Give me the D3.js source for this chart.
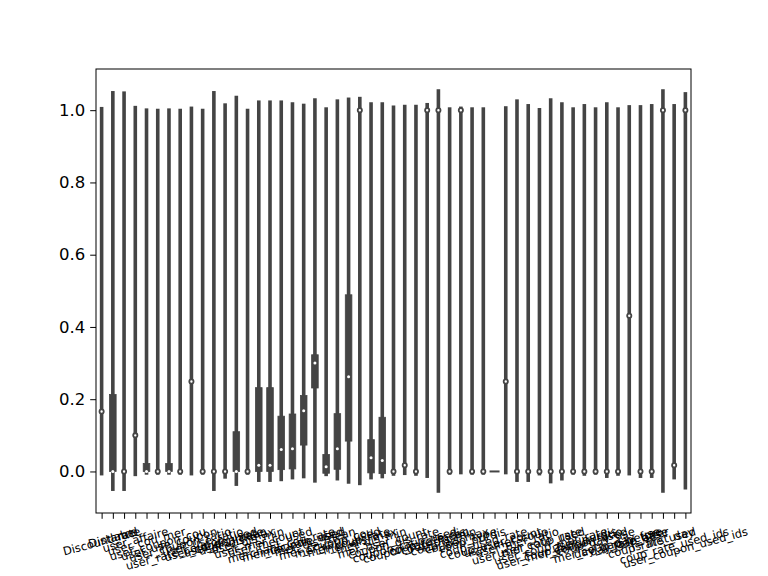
<!DOCTYPE html>
<html>
<head>
<meta charset="utf-8">
<script src="https://cdn.jsdelivr.net/npm/d3@7"></script>
<style>
  html, body { margin: 0; padding: 0; background: #fff; }
  svg { display: block; }
  text { font-family: "DejaVu Sans", sans-serif; }
</style>
</head>
<body>
<svg id="chart" width="768" height="576"></svg>
<script>
// ---- data ----
const categories = [
  "Discount_rate","Distance","label","user_affaire","user_cou_mer","user_coupon_cou",
  "user_use_coupon","user_coupon_ratio","user_rate_coupon_used","user_use_ratio",
  "user_coupon_rate","user_dis_mean","user_dis_max","user_dis_min","user_mer_count",
  "user_mer_used","merchant_cou_rate","mer_coupon_used","mer_rate_used","mer_dis_mean",
  "mer_coupon_cou","mer_ratio_used","mer_coup_rate","mer_dis_max","mer_dis_min",
  "mer_user_count","coupon_dis_rate","coupon_ratio_used","coupon_rate_mean","coup_rate_dis",
  "coup_dis_min","coup_dis_max","coupon_type","coup_purdis","coup_used_rate",
  "coup_user_count","user_mer_coup","user_mer_ratio","user_mer_rate_used","user_coup_rate",
  "user_coup_mer_rate","user_mer_coupon_used","coup_purdis_ratio","user_purdis","coup_day_use",
  "mer_coup_day_use","day_gap_before","day_gap_after","rate_base","coup_rate_used",
  "is_first_day","coup_rate_used_ids","user_coupon_used_ids"
];
// violin extent (KDE cut) top and bottom
const violinHigh = [
  1.009,1.053,1.052,1.012,1.005,1.004,1.005,1.004,1.010,1.004,
  1.053,1.019,1.040,1.004,1.027,1.027,1.027,1.022,1.018,1.033,
  1.008,1.030,1.035,1.037,1.022,1.022,1.013,1.015,1.015,1.020,
  1.058,1.008,1.010,1.008,1.008,0.000,1.011,1.030,1.017,1.006,
  1.033,1.022,1.008,1.017,1.008,1.022,1.008,1.014,1.014,1.017,
  1.058,1.017,1.050
];
const violinLow = [
  -0.011,-0.054,-0.054,-0.013,-0.009,-0.009,-0.009,-0.009,-0.011,-0.009,
  -0.054,-0.020,-0.040,-0.009,-0.029,-0.029,-0.027,-0.022,-0.019,-0.031,
  -0.013,-0.025,-0.034,-0.038,-0.022,-0.019,-0.012,-0.010,-0.012,-0.018,
  -0.059,-0.009,-0.008,-0.009,-0.009,0.000,-0.008,-0.029,-0.029,-0.011,
  -0.033,-0.025,-0.009,-0.012,-0.009,-0.018,-0.012,-0.011,-0.018,-0.018,
  -0.059,-0.022,-0.050
];
const q1 = [
  0.166,0.000,0.000,0.100,0.000,0.000,0.000,0.000,0.249,0.000,
  0.000,0.000,0.000,0.000,0.000,0.000,0.005,0.007,0.073,0.231,
  -0.005,0.006,0.084,1.000,-0.004,-0.006,0.000,0.017,0.000,1.000,
  1.000,0.000,1.000,0.000,0.000,0.000,0.249,0.000,0.000,0.000,
  0.000,0.000,0.000,0.000,0.000,0.000,0.000,0.431,0.000,0.000,
  1.000,0.017,1.000
];
const q3 = [
  0.166,0.213,0.000,0.100,0.022,0.000,0.022,0.000,0.249,0.000,
  0.000,0.000,0.110,0.000,0.232,0.232,0.153,0.159,0.210,0.323,
  0.047,0.160,0.489,1.000,0.088,0.150,0.000,0.017,0.000,1.000,
  1.000,0.000,1.000,0.000,0.000,0.000,0.249,0.000,0.000,0.000,
  0.000,0.000,0.000,0.000,0.000,0.000,0.000,0.431,0.000,0.000,
  1.000,0.017,1.000
];
const medians = [
  0.166,0.000,0.000,0.100,0.000,0.000,0.000,0.000,0.249,0.000,
  0.000,0.000,0.000,0.000,0.017,0.017,0.061,0.063,0.168,0.300,
  0.013,0.063,0.262,1.000,0.038,0.030,0.000,0.017,0.000,1.000,
  1.000,0.000,1.000,0.000,0.000,0.000,0.249,0.000,0.000,0.000,
  0.000,0.000,0.000,0.000,0.000,0.000,0.000,0.431,0.000,0.000,
  1.000,0.017,1.000
];
const yTicks = [0.0, 0.2, 0.4, 0.6, 0.8, 1.0];

// ---- layout ----
const svg = d3.select("#chart");
const plotLeft = 96, plotRight = 691, plotTop = 69, plotBottom = 513;
const edge = "#444444";

const x = d3.scaleLinear().domain([-0.5, categories.length - 0.5]).range([plotLeft, plotRight]);
const y = d3.scaleLinear().domain([-0.115, 1.114]).range([plotBottom, plotTop]);

const rows = categories.map((c, i) => ({
  name: c, i, lo: violinLow[i], hi: violinHigh[i], q1: q1[i], q3: q3[i], med: medians[i]
}));

const g = svg.append("g");

rows.forEach(d => {
  const cx = x(d.i);
  if (d.hi === d.lo) {
    g.append("line")
      .attr("x1", cx - 5).attr("x2", cx + 5)
      .attr("y1", y(d.med)).attr("y2", y(d.med))
      .attr("stroke", edge).attr("stroke-width", 2);
    return;
  }
  g.append("rect")
    .attr("x", cx - 1.8).attr("width", 3.6)
    .attr("y", y(d.hi)).attr("height", y(d.lo) - y(d.hi))
    .attr("fill", edge);
  if (d.q3 - d.q1 > 0.001) {
    g.append("rect")
      .attr("x", cx - 3.3).attr("width", 6.6)
      .attr("y", y(d.q3)).attr("height", y(d.q1) - y(d.q3))
      .attr("fill", edge).attr("stroke", edge).attr("stroke-width", 0.8);
    g.append("circle")
      .attr("cx", cx).attr("cy", y(d.med)).attr("r", 1.5)
      .attr("fill", "#fff");
  } else {
    g.append("circle")
      .attr("cx", cx).attr("cy", y(d.med)).attr("r", 2.1)
      .attr("fill", "#fff").attr("stroke", edge).attr("stroke-width", 1.8);
  }
});

// axes
const yAxis = d3.axisLeft(y).tickValues(yTicks).tickFormat(d3.format(".1f"))
  .tickSize(5.8).tickPadding(5);
const ya = svg.append("g").attr("transform", `translate(${plotLeft},0)`).call(yAxis);
ya.select(".domain").remove();
ya.selectAll("line").attr("stroke", "#000").attr("stroke-width", 1);
ya.selectAll("text").attr("font-size", 16.5).attr("fill", "#000")
  .attr("font-family", "DejaVu Sans, sans-serif");

const xAxis = d3.axisBottom(x).tickValues(d3.range(categories.length))
  .tickFormat("").tickSize(5.8);
const xa = svg.append("g").attr("transform", `translate(0,${plotBottom})`).call(xAxis);
xa.select(".domain").remove();
xa.selectAll("line").attr("stroke", "#000").attr("stroke-width", 1);

// rotated x labels, bbox centered under each tick (matplotlib rotation=15)
const ang = 15 * Math.PI / 180;
const fs = 11.5;
const lblG = svg.append("g");
rows.forEach(d => {
  const t = lblG.append("text")
    .attr("font-size", fs).attr("fill", "#000")
    .attr("font-family", "DejaVu Sans, sans-serif")
    .attr("text-anchor", "middle").attr("dominant-baseline", "central")
    .text(d.name);
  const w = t.node().getComputedTextLength();
  const h = fs * 1.17;
  const H = w * Math.sin(ang) + h * Math.cos(ang);
  const cx = x(d.i);
  const cy = plotBottom + 5.8 + 5.8 + H / 2;
  t.attr("transform", `translate(${cx},${cy}) rotate(-15)`);
});

// frame
svg.append("rect")
  .attr("x", plotLeft).attr("y", plotTop)
  .attr("width", plotRight - plotLeft).attr("height", plotBottom - plotTop)
  .attr("fill", "none").attr("stroke", "#000").attr("stroke-width", 1);
</script>
</body>
</html>
